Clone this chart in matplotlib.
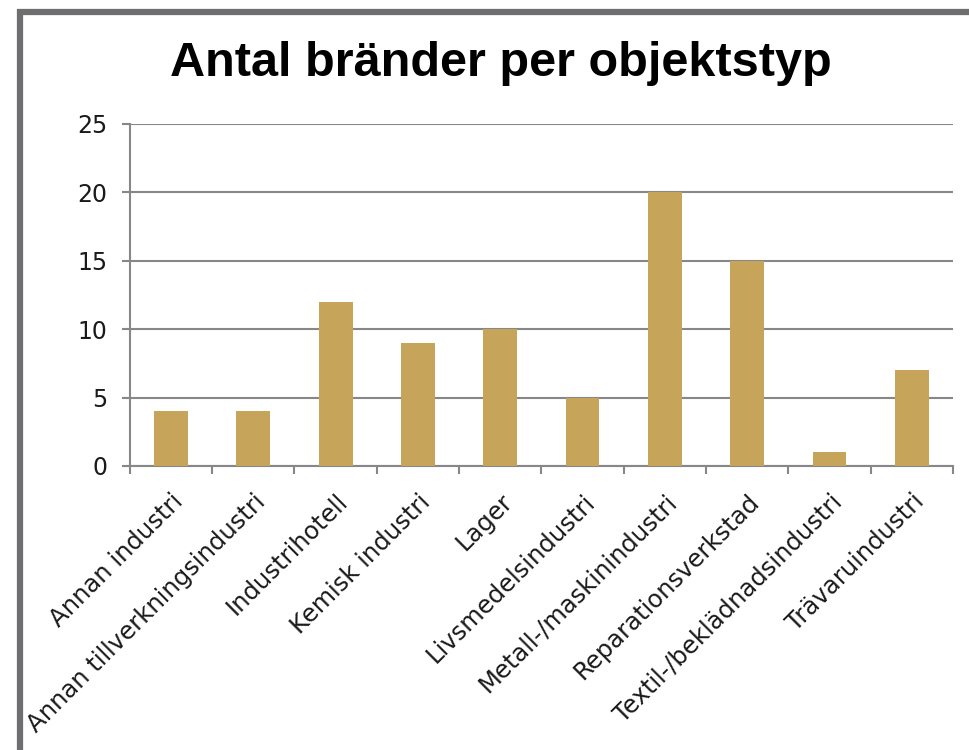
import numpy as np
import matplotlib.pyplot as plt
from matplotlib.patches import Rectangle

# Data
categories = [
    "Annan industri",
    "Annan tillverkningsindustri",
    "Industrihotell",
    "Kemisk industri",
    "Lager",
    "Livsmedelsindustri",
    "Metall-/maskinindustri",
    "Reparationsverkstad",
    "Textil-/beklädnadsindustri",
    "Trävaruindustri",
]
counts = [4, 4, 12, 9, 10, 5, 20, 15, 1, 7]
y_ticks = [0, 5, 10, 15, 20, 25]

bar_color = "#C6A45A"
grid_color = "#878787"
frame_color = "#6E6E71"
text_color = "#1A1A1A"

plt.rcParams['font.family'] = ['DejaVu Sans']

fig = plt.figure(figsize=(9.69, 7.5), dpi=100)
ax = fig.add_axes([0.134, 0.3787, 0.8495, 0.456])

# outer chart frame (only left and top edges visible in the crop)
fig.patches.append(Rectangle((20 / 969, -0.1), 1.2, 0.1 + (750 - 12) / 750,
                             transform=fig.transFigure, fill=False,
                             edgecolor=frame_color, linewidth=4.5))

x = np.arange(len(categories))
ax.bar(x, counts, width=0.41, color=bar_color, zorder=3)

ax.set_xlim(-0.5, len(categories) - 0.5)
ax.set_ylim(0, 25)
ax.set_yticks(y_ticks)
ax.set_yticklabels([str(v) for v in y_ticks], fontsize=17, color=text_color)
ax.tick_params(axis='y', length=6, width=1.5, color=grid_color, pad=10)

ax.set_xticks(x)
ax.set_xticklabels(categories, rotation=45, ha='right', rotation_mode='anchor',
                   fontsize=17.5, color=text_color)
ax.tick_params(axis='x', which='major', length=0, pad=17)
ax.set_xticks(np.arange(-0.5, len(categories)), minor=True)
ax.tick_params(axis='x', which='minor', length=6, width=1.5, color=grid_color)

ax.yaxis.grid(True, color=grid_color, linewidth=1.5, zorder=0)
ax.set_axisbelow(True)
for side in ['top', 'right']:
    ax.spines[side].set_visible(False)
for side in ['left', 'bottom']:
    ax.spines[side].set_color(grid_color)
    ax.spines[side].set_linewidth(1.5)

fig.text(0.517, 0.915, "Antal bränder per objektstyp", ha='center', va='center',
         fontsize=35, fontweight='bold', color='black',
         family=['Liberation Sans', 'DejaVu Sans'])

fig.savefig("out.png", dpi=100)
